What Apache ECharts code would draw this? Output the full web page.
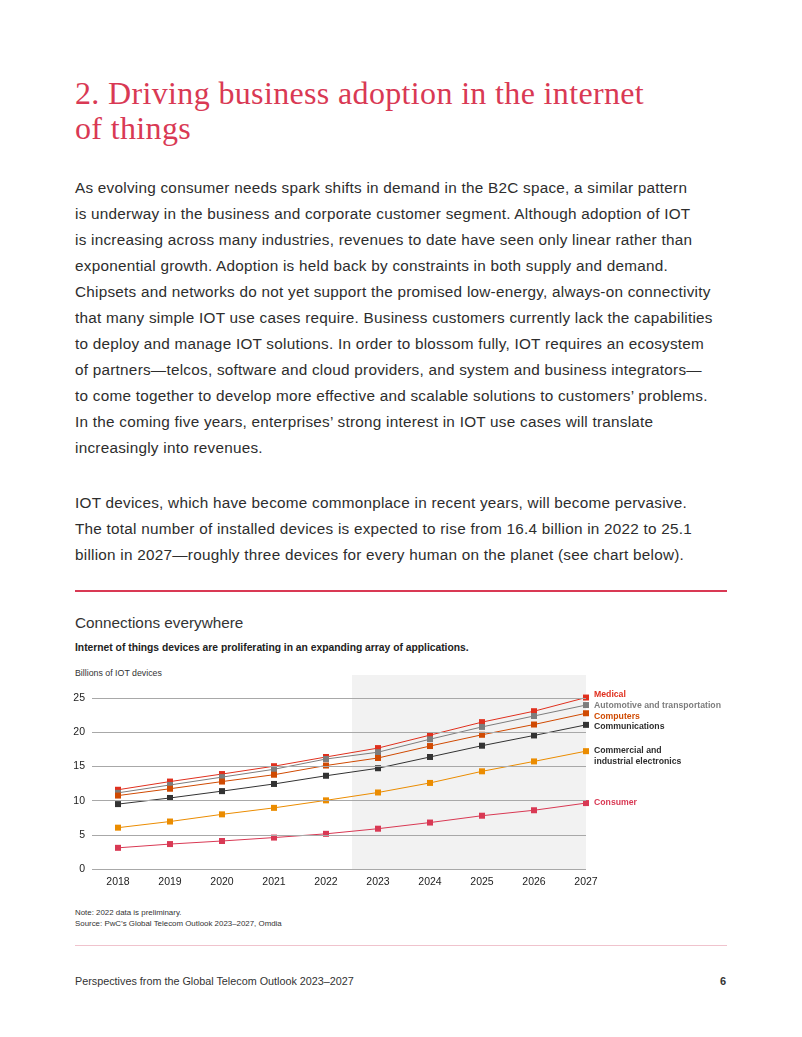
<!DOCTYPE html>
<html>
<head>
<meta charset="utf-8">
<script src="https://cdn.jsdelivr.net/npm/echarts@6/dist/echarts.min.js"></script>
<style>
  html, body { margin:0; padding:0; background:#fff; }
  body { width:802px; height:1037px; position:relative; overflow:hidden; font-family:"Liberation Sans", Arial, sans-serif; color:#2d2d2d; }
  .abs { position:absolute; white-space:nowrap; }
  #title { left:75px; top:76px; font-family:"Liberation Serif", serif; font-size:32px; line-height:35px; letter-spacing:0.35px; color:#d93954; }
  .para { left:75px; font-size:15.3px; line-height:26px; letter-spacing:0.25px; color:#2d2d2d; }
  #rule1 { left:75px; top:590px; width:652px; height:2px; background:#d93954; }
  #rule2 { left:75px; top:945px; width:652px; height:1px; background:#f0c3cd; }
  #ctitle { left:75px; top:614px; font-size:15.3px; color:#333; }
  #csub { left:75px; top:642px; font-size:10.3px; font-weight:bold; color:#222; }
  #cunit { left:75px; top:668px; font-size:8.8px; color:#333; }
  #note { left:75px; top:907px; font-size:7.9px; line-height:11px; color:#333; }
  #foot { left:75px; top:975px; font-size:10.8px; color:#333; }
  #page { left:720px; top:975px; font-size:11px; color:#333; font-weight:bold; }
  #chart { position:absolute; left:0; top:0; width:802px; height:1037px; }
</style>
</head>
<body>
<div id="title" class="abs">2. Driving business adoption in the internet<br>of things</div>
<div class="abs para" style="top:175px">As evolving consumer needs spark shifts in demand in the B2C space, a similar pattern<br>is underway in the business and corporate customer segment. Although adoption of IOT<br>is increasing across many industries, revenues to date have seen only linear rather than<br>exponential growth. Adoption is held back by constraints in both supply and demand.<br>Chipsets and networks do not yet support the promised low-energy, always-on connectivity<br>that many simple IOT use cases require. Business customers currently lack the capabilities<br>to deploy and manage IOT solutions. In order to blossom fully, IOT requires an ecosystem<br>of partners—telcos, software and cloud providers, and system and business integrators—<br>to come together to develop more effective and scalable solutions to customers’ problems.<br>In the coming five years, enterprises’ strong interest in IOT use cases will translate<br>increasingly into revenues.</div>
<div class="abs para" style="top:490px">IOT devices, which have become commonplace in recent years, will become pervasive.<br>The total number of installed devices is expected to rise from 16.4 billion in 2022 to 25.1<br>billion in 2027—roughly three devices for every human on the planet (see chart below).</div>
<div id="rule1" class="abs"></div>
<div id="ctitle" class="abs">Connections everywhere</div>
<div id="csub" class="abs">Internet of things devices are proliferating in an expanding array of applications.</div>
<div id="cunit" class="abs">Billions of IOT devices</div>
<div id="note" class="abs">Note: 2022 data is preliminary.<br>Source: PwC’s Global Telecom Outlook 2023–2027, Omdia</div>
<div id="rule2" class="abs"></div>
<div id="foot" class="abs">Perspectives from the Global Telecom Outlook 2023–2027</div>
<div id="page" class="abs">6</div>
<div id="chart"></div>
<script>
const years = [2018, 2019, 2020, 2021, 2022, 2023, 2024, 2025, 2026, 2027];
const yTicks = [0, 5, 10, 15, 20, 25];
const forecastStart = 2022.5;

const medical        = [11.6, 12.8, 13.9, 15.05, 16.4, 17.7, 19.6, 21.5, 23.1, 25.1];
const automotive     = [11.15, 12.3, 13.45, 14.6, 16.1, 17.1, 19.0, 20.8, 22.4, 24.0];
const computers      = [10.75, 11.75, 12.8, 13.8, 15.15, 16.25, 18.0, 19.65, 21.15, 22.8];
const communications = [9.5, 10.4, 11.4, 12.45, 13.65, 14.75, 16.4, 18.05, 19.55, 21.1];
const commercial     = [6.05, 6.95, 8.0, 8.95, 10.05, 11.2, 12.6, 14.3, 15.75, 17.25];
const consumer       = [3.1, 3.65, 4.1, 4.6, 5.15, 5.9, 6.8, 7.8, 8.6, 9.65];

const seriesNames  = ['Medical', 'Automotive and transportation', 'Computers', 'Communications', 'Commercial and\nindustrial electronics', 'Consumer'];
const seriesValues = [medical, automotive, computers, communications, commercial, consumer];
const lineColors   = ['#e0301e', '#7d7d7d', '#d04a02', '#333333', '#eb8c00', '#d93954'];
const labelColors  = ['#e0301e', '#7d7d7d', '#d04a02', '#2d2d2d', '#2d2d2d', '#d93954'];
const labelOffsets = [[0, -3], [0, 1], [0, 3], [0, 2], [0, 5], [0, 0]];

const chart = echarts.init(document.getElementById('chart'));

const series = [{
  type: 'line', data: [], z: 1, silent: true,
  markArea: { silent: true, itemStyle: { color: '#f2f2f2' }, data: [[{ xAxis: forecastStart }, { xAxis: 2027 }]] },
  markLine: { silent: true, symbol: 'none', label: { show: false },
    lineStyle: { color: '#a8a8a8', type: 'solid', width: 1 },
    data: yTicks.map(v => ({ yAxis: v })) }
}];
seriesNames.forEach((name, i) => {
  series.push({
    name: name, type: 'line', z: 3,
    data: years.map((y, j) => [y, seriesValues[i][j]]),
    symbol: 'rect', symbolSize: 6, showSymbol: true,
    lineStyle: { color: lineColors[i], width: 1 },
    itemStyle: { color: lineColors[i] },
    endLabel: { show: true, formatter: name, offset: labelOffsets[i], color: labelColors[i],
      fontFamily: 'Liberation Sans', fontSize: 8.7, fontWeight: 'bold', lineHeight: 11 },
    emphasis: { disabled: true }, animation: false
  });
});

chart.setOption({
  animation: false,
  grid: { left: 92, right: 216, top: 675, bottom: 168, containLabel: false },
  xAxis: { type: 'value', min: 2017.5, max: 2027,
    axisLine: { show: false }, axisTick: { show: false }, splitLine: { show: false },
    axisLabel: { customValues: years, formatter: v => String(v), margin: 8,
      color: '#222', fontSize: 10.5, fontFamily: 'Liberation Sans' } },
  yAxis: { type: 'value', min: 0, max: 28.4,
    axisLine: { show: false }, axisTick: { show: false }, splitLine: { show: false },
    axisLabel: { customValues: yTicks, margin: 7, color: '#222', fontSize: 10.5, fontFamily: 'Liberation Sans' } },
  series: series
});
</script>
</body>
</html>
